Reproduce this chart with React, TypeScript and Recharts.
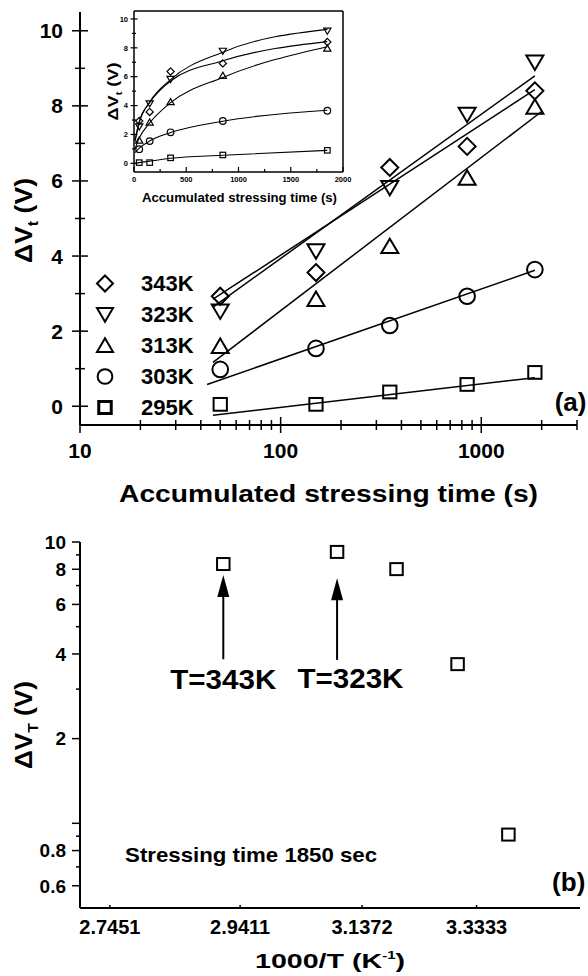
import React from 'react';
import { ComposedChart, Scatter, Line, XAxis, YAxis, Legend, ReferenceLine, ReferenceDot } from 'recharts';

const FONT = '"Liberation Sans", Arial, Helvetica, sans-serif';

// ---------- Panel (a): threshold-voltage shift vs accumulated stressing time ----------
const temperatures = ['343K', '323K', '313K', '303K', '295K'];
const stressTimes = [50, 150, 350, 850, 1850];
const dV343 = [2.93, 3.56, 6.36, 6.92, 8.4];
const dV323 = [2.53, 4.13, 5.82, 7.77, 9.16];
const dV313 = [1.6, 2.85, 4.26, 6.08, 7.97];
const dV303 = [0.98, 1.54, 2.15, 2.93, 3.64];
const dV295 = [0.05, 0.05, 0.38, 0.58, 0.9];

// straight-line fits on the log-time axis (end points)
const fitT343 = [46, 1850];
const fitV343 = [2.85, 8.43];
const fitT323 = [46, 1850];
const fitV323 = [2.64, 8.8];
const fitT313 = [46, 2000];
const fitV313 = [1.17, 7.85];
const fitT303 = [43, 1850];
const fitV303 = [0.58, 3.62];
const fitT295 = [46, 1850];
const fitV295 = [-0.24, 0.76];

// inset: same data on a linear time axis with fitted curves
const insetCurveTimes = [10, 50, 150, 350, 850, 1850];
const curve343 = [1.6, 2.9, 4.2, 5.7, 7.1, 8.43];
const curve323 = [1.5, 2.8, 4.25, 5.8, 7.7, 9.28];
const curve313 = [1.0, 1.75, 2.8, 4.2, 5.95, 8.08];
const curve303 = [0.75, 1.05, 1.55, 2.13, 2.92, 3.68];
const curve295 = [0.0, 0.05, 0.15, 0.35, 0.56, 0.9];

const aXTicks = [10, 20, 30, 40, 50, 60, 70, 80, 90, 100, 200, 300, 400, 500, 600, 700, 800, 900, 1000, 2000, 3000];
const aXLabelled = [10, 100, 1000];
const aYTicks = [0, 1, 2, 3, 4, 5, 6, 7, 8, 9, 10];
const aYLabelled = [0, 2, 4, 6, 8, 10];
const insetXTicks = [0, 250, 500, 750, 1000, 1250, 1500, 1750, 2000];
const insetXLabelled = [0, 500, 1000, 1500, 2000];
const insetYTicks = [0, 1, 2, 3, 4, 5, 6, 7, 8, 9, 10];
const insetYLabelled = [0, 2, 4, 6, 8, 10];

// ---------- Panel (b): shift after 1850 s vs 1000/T ----------
const invTemps = [2.915, 3.096, 3.195, 3.3, 3.39];
const dVT1850 = [8.35, 9.22, 8.01, 3.68, 0.912];
const bXTicks = [2.7451, 2.9411, 3.1372, 3.3333];
const bYTicks = [0.6, 0.7, 0.8, 0.9, 1, 2, 3, 4, 5, 6, 7, 8, 9, 10];
const bYLabelled = [0.6, 0.8, 2, 4, 6, 8, 10];
const bYLong = [0.6, 0.8, 1, 2, 4, 6, 8, 10];

const arrowLabels = ['T=343K', 'T=323K'];
const arrowX = [2.915, 3.096];
const arrowFrom = [3.83, 3.81];
const arrowTo = [7.63, 7.43];
const arrowLabelX = [2.915, 3.118];
const arrowLabelY = [3.26, 3.28];

type Kind = 'diamond' | 'down' | 'up' | 'circle' | 'square';

const toRows = (xs: number[], ys: number[]) => xs.map((x, i) => ({ x, y: ys[i] }));

const seriesA = [
  { name: temperatures[0], kind: 'diamond' as Kind, vals: dV343, fitT: fitT343, fitV: fitV343, curve: curve343 },
  { name: temperatures[1], kind: 'down' as Kind, vals: dV323, fitT: fitT323, fitV: fitV323, curve: curve323 },
  { name: temperatures[2], kind: 'up' as Kind, vals: dV313, fitT: fitT313, fitV: fitV313, curve: curve313 },
  { name: temperatures[3], kind: 'circle' as Kind, vals: dV303, fitT: fitT303, fitV: fitV303, curve: curve303 },
  { name: temperatures[4], kind: 'square' as Kind, vals: dV295, fitT: fitT295, fitV: fitV295, curve: curve295 },
];

const kindOf: Record<string, Kind> = {};
seriesA.forEach((s) => (kindOf[s.name] = s.kind));

function marker(kind: Kind, cx: number, cy: number, s: number, sw: number) {
  const common = { fill: 'none', stroke: '#000', strokeWidth: sw };
  switch (kind) {
    case 'diamond':
      return <path d={`M${cx},${cy - s}L${cx + s},${cy}L${cx},${cy + s}L${cx - s},${cy}Z`} {...common} />;
    case 'down':
      return <path d={`M${cx - s},${cy - 0.8 * s}L${cx + s},${cy - 0.8 * s}L${cx},${cy + 0.9 * s}Z`} {...common} />;
    case 'up':
      return <path d={`M${cx - s},${cy + 0.8 * s}L${cx + s},${cy + 0.8 * s}L${cx},${cy - 0.9 * s}Z`} {...common} />;
    case 'circle':
      return <circle cx={cx} cy={cy} r={s * 0.92} {...common} />;
    default:
      return <rect x={cx - 0.78 * s} y={cy - 0.75 * s} width={1.56 * s} height={1.5 * s} {...common} />;
  }
}

const bold = { fontFamily: FONT, fontWeight: 'bold' as const, fill: '#000' };

// ---------- tick renderers ----------
const renderAXTick = (p: any) => {
  const { x, y, payload } = p;
  const v = payload.value;
  const major = aXLabelled.includes(v);
  const len = major ? 8 : 5;
  return (
    <g>
      <line x1={x} y1={y - len} x2={x} y2={y + len} stroke="#000" strokeWidth={1.5} />
      {major && (
        <text x={x} y={y + 33} textAnchor="middle" fontSize={21} {...bold}>
          {v}
        </text>
      )}
    </g>
  );
};

const renderAYTick = (p: any) => {
  const { x, y, payload } = p;
  const v = payload.value;
  const major = aYLabelled.includes(v);
  const len = major ? 8 : 5;
  return (
    <g>
      <line x1={x - len} y1={y} x2={x + len} y2={y} stroke="#000" strokeWidth={1.5} />
      {major && (
        <text x={x - 17} y={y + 7.5} textAnchor="end" fontSize={21} {...bold}>
          {v}
        </text>
      )}
    </g>
  );
};

const renderInsetXTick = (p: any) => {
  const { x, y, payload } = p;
  const v = payload.value;
  const major = insetXLabelled.includes(v);
  return (
    <g>
      <line x1={x} y1={y - (major ? 5 : 3)} x2={x} y2={y} stroke="#000" strokeWidth={1.2} />
      {major && (
        <text x={x} y={y + 9.5} textAnchor="middle" fontSize={7.5} {...bold}>
          {v}
        </text>
      )}
    </g>
  );
};

const renderInsetYTick = (p: any) => {
  const { x, y, payload } = p;
  const v = payload.value;
  const major = insetYLabelled.includes(v);
  const len = major ? 3.5 : 2;
  return (
    <g>
      <line x1={x - len} y1={y} x2={x + len} y2={y} stroke="#000" strokeWidth={1.2} />
      {major && (
        <text x={x - 6} y={y + 2.7} textAnchor="end" fontSize={7.5} {...bold}>
          {v}
        </text>
      )}
    </g>
  );
};

const renderBXTick = (p: any) => {
  const { x, y, payload } = p;
  return (
    <g>
      <line x1={x} y1={y - 3} x2={x} y2={y} stroke="#000" strokeWidth={1.5} />
      <text x={x} y={y + 26} textAnchor="middle" fontSize={20} {...bold}>
        {payload.value.toFixed(4)}
      </text>
    </g>
  );
};

const renderBYTick = (p: any) => {
  const { x, y, payload } = p;
  const v = payload.value;
  const len = bYLong.includes(v) ? 8 : 4;
  return (
    <g>
      <line x1={x - len} y1={y} x2={x} y2={y} stroke="#000" strokeWidth={1.5} />
      {bYLabelled.includes(v) && (
        <text x={x - 14} y={y + 6.8} textAnchor="end" fontSize={19} {...bold}>
          {v}
        </text>
      )}
    </g>
  );
};

// ---------- axis titles ----------
const vbOr = (p: any, d: { x: number; y: number; width: number; height: number }) => (p && p.viewBox && p.viewBox.width !== undefined ? p.viewBox : d);

const renderAXTitle = (p: any) => {
  const vb = vbOr(p, { x: 80, y: 425, width: 497, height: 95 });
  return (
    <text x={vb.x + vb.width / 2} y={vb.y + 77} textAnchor="middle" fontSize={23} textLength={419} lengthAdjust="spacingAndGlyphs" {...bold}>
      Accumulated stressing time (s)
    </text>
  );
};

const rotatedLabel = (cx: number, cy: number, fs: number, sub: string, len: number) => (
  <text
    transform={`rotate(-90 ${cx} ${cy})`}
    x={cx}
    y={cy + 0.358 * fs}
    textAnchor="middle"
    fontSize={fs}
    textLength={len}
    lengthAdjust="spacingAndGlyphs"
    {...bold}
  >
    ΔV
    <tspan dy={fs * 0.25} fontSize={fs * 0.6}>
      {sub}
    </tspan>
    <tspan dy={-fs * 0.25}> (V)</tspan>
  </text>
);

const renderAYTitle = (p: any) => {
  const vb = vbOr(p, { x: 0, y: 12, width: 80, height: 413 });
  return rotatedLabel(23, vb.y + vb.height / 2 + 2, 24, 't', 85);
};

const renderInsetXTitle = (p: any) => {
  const vb = vbOr(p, { x: 44, y: 172, width: 209, height: 43 });
  return (
    <text x={vb.x + vb.width / 2 + 1} y={vb.y + 29.5} textAnchor="middle" fontSize={12.5} textLength={195} lengthAdjust="spacingAndGlyphs" {...bold}>
      Accumulated stressing time (s)
    </text>
  );
};

const renderInsetYTitle = (p: any) => {
  const vb = vbOr(p, { x: 0, y: 11, width: 44, height: 161 });
  return rotatedLabel(23, vb.y + vb.height / 2, 15, 't', 58);
};

const renderBXTitle = (p: any) => {
  const vb = vbOr(p, { x: 80, y: 388, width: 500, height: 68 });
  return (
    <text x={vb.x + vb.width / 2} y={vb.y + 60} textAnchor="middle" fontSize={21} textLength={150} lengthAdjust="spacingAndGlyphs" {...bold}>
      1000/T (K
      <tspan dy={-9} fontSize={11}>
        -1
      </tspan>
      <tspan dy={9}>)</tspan>
    </text>
  );
};

const renderBYTitle = (p: any) => {
  const vb = vbOr(p, { x: 0, y: 22, width: 80, height: 366 });
  return rotatedLabel(23, vb.y + vb.height / 2, 24, 'T', 88);
};

// ---------- annotations ----------
const textShape = (txt: string, fs: number, anchor: 'start' | 'middle' | 'end', len?: number) => (p: any) => (
  <text
    x={p.cx}
    y={p.cy + 0.358 * fs}
    textAnchor={anchor}
    fontSize={fs}
    {...(len ? { textLength: len, lengthAdjust: 'spacingAndGlyphs' } : {})}
    {...bold}
  >
    {txt}
  </text>
);

const arrowShape = (p: any) => {
  const { x1, y1, x2, y2 } = p;
  const head = 22;
  const hw = 6;
  return (
    <g>
      <line x1={x1} y1={y1} x2={x2} y2={y2 + head - 2} stroke="#000" strokeWidth={2} />
      <path d={`M${x2},${y2}L${x2 - hw},${y2 + head}L${x2 + hw},${y2 + head}Z`} fill="#000" />
    </g>
  );
};

const renderLegend = (props: any) => {
  const items = (props.payload || []).filter((it: any) => kindOf[it.value]);
  items.sort((a: any, b: any) => temperatures.indexOf(a.value) - temperatures.indexOf(b.value));
  return (
    <div style={{ fontFamily: FONT, fontWeight: 'bold', fontSize: 22, color: '#000' }}>
      {items.map((it: any) => (
        <div key={it.value} style={{ display: 'flex', alignItems: 'center', height: 31 }}>
          <svg width={30} height={31} style={{ display: 'block' }}>
            {marker(kindOf[it.value], 15, 15.5, 8, kindOf[it.value] === 'square' ? 3 : 2)}
          </svg>
          <span style={{ marginLeft: 21, lineHeight: '31px' }}>{it.value}</span>
        </div>
      ))}
    </div>
  );
};

const axisLine = { stroke: '#000', strokeWidth: 2 };

export default function App() {
  return (
    <div style={{ position: 'absolute', left: 0, top: 0, width: 588, height: 976, background: '#fff' }}>
      {/* Panel (a) */}
      <div style={{ position: 'absolute', left: 0, top: 0 }}>
        <ComposedChart width={588} height={520} margin={{ top: 12, right: 11, left: 0, bottom: 0 }}>
          <XAxis
            dataKey="x"
            type="number"
            scale="log"
            domain={[10, 3000]}
            allowDataOverflow
            ticks={aXTicks}
            interval={0}
            tickSize={0}
            tickMargin={0}
            tick={renderAXTick}
            tickLine={false}
            axisLine={axisLine}
            height={95}
            label={renderAXTitle}
          />
          <YAxis
            dataKey="y"
            type="number"
            domain={[-0.5, 10.5]}
            allowDataOverflow
            ticks={aYTicks}
            interval={0}
            tickSize={0}
            tickMargin={0}
            tick={renderAYTick}
            tickLine={false}
            axisLine={axisLine}
            width={80}
            label={renderAYTitle}
          />
          {seriesA.map((s) => (
            <Line
              key={'fit' + s.name}
              data={toRows(s.fitT, s.fitV)}
              dataKey="y"
              type="linear"
              stroke="#000"
              strokeWidth={1.5}
              dot={false}
              activeDot={false}
              legendType="none"
              isAnimationActive={false}
            />
          ))}
          {seriesA.map((s) => (
            <Scatter
              key={s.name}
              name={s.name}
              data={toRows(stressTimes, s.vals)}
              dataKey="y"
              fill="#000"
              shape={(p: any) => marker(s.kind, p.cx, p.cy, 8.5, 2)}
              isAnimationActive={false}
            />
          ))}
          <ReferenceDot x={2786} y={0.13} r={0} shape={textShape('(a)', 26, 'middle')} />
          <Legend
            layout="vertical"
            align="center"
            verticalAlign="middle"
            content={renderLegend}
            wrapperStyle={{ left: 90, top: 267.5, width: 'auto', height: 'auto' }}
          />
        </ComposedChart>
      </div>

      {/* Inset of panel (a) */}
      <div style={{ position: 'absolute', left: 90, top: 0 }}>
        <ComposedChart width={270} height={215} margin={{ top: 11, right: 17, left: 0, bottom: 0 }}>
          <XAxis
            dataKey="x"
            type="number"
            domain={[0, 2000]}
            allowDataOverflow
            ticks={insetXTicks}
            interval={0}
            tickSize={0}
            tickMargin={0}
            tick={renderInsetXTick}
            tickLine={false}
            axisLine={{ stroke: '#000', strokeWidth: 1.5 }}
            height={43}
            label={renderInsetXTitle}
          />
          <YAxis
            dataKey="y"
            type="number"
            domain={[-0.6, 10.55]}
            allowDataOverflow
            ticks={insetYTicks}
            interval={0}
            tickSize={0}
            tickMargin={0}
            tick={renderInsetYTick}
            tickLine={false}
            axisLine={{ stroke: '#000', strokeWidth: 1.5 }}
            width={44}
            label={renderInsetYTitle}
          />
          <ReferenceLine y={10.55} stroke="#000" strokeWidth={1.5} />
          <ReferenceLine x={2000} stroke="#000" strokeWidth={1.5} />
          {seriesA.map((s) => (
            <Line
              key={'curve' + s.name}
              data={toRows(insetCurveTimes, s.curve)}
              dataKey="y"
              type="monotone"
              stroke="#000"
              strokeWidth={1.1}
              dot={false}
              activeDot={false}
              legendType="none"
              isAnimationActive={false}
            />
          ))}
          {seriesA.map((s) => (
            <Scatter
              key={'in' + s.name}
              name={s.name}
              data={toRows(stressTimes, s.vals)}
              dataKey="y"
              fill="#000"
              shape={(p: any) => marker(s.kind, p.cx, p.cy, 3.6, 1.2)}
              isAnimationActive={false}
            />
          ))}
        </ComposedChart>
      </div>

      {/* Panel (b) */}
      <div style={{ position: 'absolute', left: 0, top: 520 }}>
        <ComposedChart width={588} height={456} margin={{ top: 22, right: 8, left: 0, bottom: 0 }}>
          <XAxis
            dataKey="x"
            type="number"
            scale="log"
            domain={[2.702, 3.521]}
            allowDataOverflow
            ticks={bXTicks}
            interval={0}
            tickSize={0}
            tickMargin={0}
            tick={renderBXTick}
            tickLine={false}
            axisLine={axisLine}
            height={68}
            label={renderBXTitle}
          />
          <YAxis
            dataKey="y"
            type="number"
            scale="log"
            domain={[0.5, 10]}
            allowDataOverflow
            ticks={bYTicks}
            interval={0}
            tickSize={0}
            tickMargin={0}
            tick={renderBYTick}
            tickLine={false}
            axisLine={axisLine}
            width={80}
            label={renderBYTitle}
          />
          <Scatter
            name="1850 s"
            data={toRows(invTemps, dVT1850)}
            dataKey="y"
            fill="#000"
            shape={(p: any) => marker('square', p.cx, p.cy, 8, 2)}
            isAnimationActive={false}
          />
          {arrowX.map((ax, i) => (
            <ReferenceLine
              key={'arrow' + i}
              segment={[
                { x: ax, y: arrowFrom[i] },
                { x: ax, y: arrowTo[i] },
              ]}
              stroke="#000"
              shape={arrowShape}
            />
          ))}
          {arrowLabels.map((t, i) => (
            <ReferenceDot key={'lab' + i} x={arrowLabelX[i]} y={arrowLabelY[i]} r={0} shape={textShape(t, 28, 'middle', 106)} />
          ))}
          <ReferenceDot x={2.7673} y={0.774} r={0} shape={textShape('Stressing time 1850 sec', 21, 'start', 252)} />
          <ReferenceDot x={3.5} y={0.62} r={0} shape={textShape('(b)', 26, 'middle')} />
        </ComposedChart>
      </div>
    </div>
  );
}
